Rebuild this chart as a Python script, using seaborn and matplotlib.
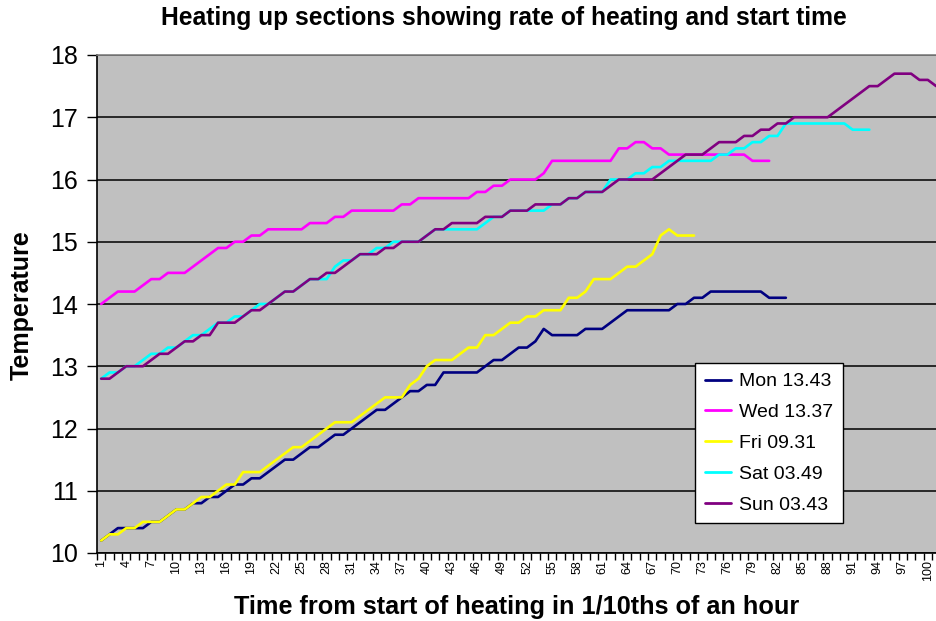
import numpy as np
import pandas as pd
import matplotlib
matplotlib.use("Agg")
import matplotlib.pyplot as plt
from matplotlib.ticker import FixedLocator
import seaborn as sns

# ---- data ----
series_names = ["Mon 13.43", "Wed 13.37", "Fri 09.31", "Sat 03.49", "Sun 03.43"]

mon = [10.2, 10.3, 10.4, 10.4, 10.4, 10.4, 10.5, 10.5, 10.6, 10.7,
       10.7, 10.8, 10.8, 10.9, 10.9, 11.0, 11.1, 11.1, 11.2, 11.2,
       11.3, 11.4, 11.5, 11.5, 11.6, 11.7, 11.7, 11.8, 11.9, 11.9,
       12.0, 12.1, 12.2, 12.3, 12.3, 12.4, 12.5, 12.6, 12.6, 12.7,
       12.7, 12.9, 12.9, 12.9, 12.9, 12.9, 13.0, 13.1, 13.1, 13.2,
       13.3, 13.3, 13.4, 13.6, 13.5, 13.5, 13.5, 13.5, 13.6, 13.6,
       13.6, 13.7, 13.8, 13.9, 13.9, 13.9, 13.9, 13.9, 13.9, 14.0,
       14.0, 14.1, 14.1, 14.2, 14.2, 14.2, 14.2, 14.2, 14.2, 14.2,
       14.1, 14.1, 14.1]

wed = [14.0, 14.1, 14.2, 14.2, 14.2, 14.3, 14.4, 14.4, 14.5, 14.5,
       14.5, 14.6, 14.7, 14.8, 14.9, 14.9, 15.0, 15.0, 15.1, 15.1,
       15.2, 15.2, 15.2, 15.2, 15.2, 15.3, 15.3, 15.3, 15.4, 15.4,
       15.5, 15.5, 15.5, 15.5, 15.5, 15.5, 15.6, 15.6, 15.7, 15.7,
       15.7, 15.7, 15.7, 15.7, 15.7, 15.8, 15.8, 15.9, 15.9, 16.0,
       16.0, 16.0, 16.0, 16.1, 16.3, 16.3, 16.3, 16.3, 16.3, 16.3,
       16.3, 16.3, 16.5, 16.5, 16.6, 16.6, 16.5, 16.5, 16.4, 16.4,
       16.4, 16.4, 16.4, 16.4, 16.4, 16.4, 16.4, 16.4, 16.3, 16.3,
       16.3]

fri = [10.2, 10.3, 10.3, 10.4, 10.4, 10.5, 10.5, 10.5, 10.6, 10.7,
       10.7, 10.8, 10.9, 10.9, 11.0, 11.1, 11.1, 11.3, 11.3, 11.3,
       11.4, 11.5, 11.6, 11.7, 11.7, 11.8, 11.9, 12.0, 12.1, 12.1,
       12.1, 12.2, 12.3, 12.4, 12.5, 12.5, 12.5, 12.7, 12.8, 13.0,
       13.1, 13.1, 13.1, 13.2, 13.3, 13.3, 13.5, 13.5, 13.6, 13.7,
       13.7, 13.8, 13.8, 13.9, 13.9, 13.9, 14.1, 14.1, 14.2, 14.4,
       14.4, 14.4, 14.5, 14.6, 14.6, 14.7, 14.8, 15.1, 15.2, 15.1,
       15.1, 15.1]

sat = [12.8, 12.9, 12.9, 13.0, 13.0, 13.1, 13.2, 13.2, 13.3, 13.3,
       13.4, 13.5, 13.5, 13.6, 13.7, 13.7, 13.8, 13.8, 13.9, 14.0,
       14.0, 14.1, 14.2, 14.2, 14.3, 14.4, 14.4, 14.4, 14.6, 14.7,
       14.7, 14.8, 14.8, 14.9, 14.9, 15.0, 15.0, 15.0, 15.0, 15.1,
       15.2, 15.2, 15.2, 15.2, 15.2, 15.2, 15.3, 15.4, 15.4, 15.5,
       15.5, 15.5, 15.5, 15.5, 15.6, 15.6, 15.7, 15.7, 15.8, 15.8,
       15.8, 16.0, 16.0, 16.0, 16.1, 16.1, 16.2, 16.2, 16.3, 16.3,
       16.3, 16.3, 16.3, 16.3, 16.4, 16.4, 16.5, 16.5, 16.6, 16.6,
       16.7, 16.7, 16.9, 16.9, 16.9, 16.9, 16.9, 16.9, 16.9, 16.9,
       16.8, 16.8, 16.8]

sun = [12.8, 12.8, 12.9, 13.0, 13.0, 13.0, 13.1, 13.2, 13.2, 13.3,
       13.4, 13.4, 13.5, 13.5, 13.7, 13.7, 13.7, 13.8, 13.9, 13.9,
       14.0, 14.1, 14.2, 14.2, 14.3, 14.4, 14.4, 14.5, 14.5, 14.6,
       14.7, 14.8, 14.8, 14.8, 14.9, 14.9, 15.0, 15.0, 15.0, 15.1,
       15.2, 15.2, 15.3, 15.3, 15.3, 15.3, 15.4, 15.4, 15.4, 15.5,
       15.5, 15.5, 15.6, 15.6, 15.6, 15.6, 15.7, 15.7, 15.8, 15.8,
       15.8, 15.9, 16.0, 16.0, 16.0, 16.0, 16.0, 16.1, 16.2, 16.3,
       16.4, 16.4, 16.4, 16.5, 16.6, 16.6, 16.6, 16.7, 16.7, 16.8,
       16.8, 16.9, 16.9, 17.0, 17.0, 17.0, 17.0, 17.0, 17.1, 17.2,
       17.3, 17.4, 17.5, 17.5, 17.6, 17.7, 17.7, 17.7, 17.6, 17.6,
       17.5]

colors = ["#000080", "#FF00FF", "#FFFF00", "#00FFFF", "#800080"]

x_tick_labels = [str(v) for v in range(1, 101, 3)]
y_ticks = [10, 11, 12, 13, 14, 15, 16, 17, 18]

title = "Heating up sections showing rate of heating and start time"
xlabel = "Time from start of heating in 1/10ths of an hour"
ylabel = "Temperature"

# ---- long-form table ----
frames = []
for name, vals in zip(series_names, [mon, wed, fri, sat, sun]):
    frames.append(pd.DataFrame({"t": np.arange(1, len(vals) + 1),
                                "temp": vals, "series": name}))
df = pd.concat(frames, ignore_index=True)

# ---- style ----
sns.set_style("white")
plt.rcParams["font.family"] = ["Liberation Sans", "DejaVu Sans"]
plt.rcParams["text.color"] = "black"
plt.rcParams["xtick.color"] = "black"
plt.rcParams["ytick.color"] = "black"
plt.rcParams["axes.labelcolor"] = "black"

fig = plt.figure(figsize=(9.37, 6.21), dpi=100)
ax = fig.add_axes([97 / 937, 1 - 553 / 621, 1 - 97 / 937, (553 - 55) / 621])
ax.set_facecolor("#C0C0C0")

sns.lineplot(data=df, x="t", y="temp", hue="series", hue_order=series_names,
             palette=colors, linewidth=1.9, ax=ax, legend=False,
             estimator=None, sort=False)

ax.set_xlim(0.5, 101.1)
ax.set_ylim(10, 18)

# y axis
ax.set_yticks(y_ticks)
ax.set_yticklabels([str(v) for v in y_ticks], fontsize=18, color="black")
ax.tick_params(axis="y", direction="out", length=7, width=1, color="black",
               pad=7, left=True)
ax.yaxis.grid(True, color="black", linewidth=1.1)
ax.xaxis.grid(False)
ax.set_axisbelow(True)

# x axis: labels every 3 categories, tick marks at category boundaries
label_pos = [int(s) for s in x_tick_labels]
ax.set_xticks(label_pos)
ax.set_xticklabels(x_tick_labels, rotation=90, fontsize=9, color="black")
ax.tick_params(axis="x", which="major", length=0, pad=5, bottom=True)
ax.xaxis.set_minor_locator(FixedLocator(np.arange(0.5, 101.5, 1.0)))
ax.tick_params(axis="x", which="minor", direction="out", length=5, width=1,
               color="black", bottom=True)

for s in ["left", "bottom"]:
    ax.spines[s].set_color("black")
    ax.spines[s].set_linewidth(1.2)
ax.spines["top"].set_color("#808080")
ax.spines["top"].set_linewidth(1.2)
ax.spines["right"].set_visible(False)

ax.set_xlabel("")
ax.set_ylabel("")
fig.text(517 / 937, 1 - 607 / 621, xlabel, ha="center", va="center",
         fontsize=18.2, fontweight="bold", color="black")
fig.text(22 / 937, 1 - 305 / 621, ylabel, ha="center", va="center",
         rotation=90, fontsize=18, fontweight="bold", color="black")
fig.text(504 / 937, 1 - 18 / 621, title, ha="center", va="center",
         fontsize=17.7, fontweight="bold", color="black")

# legend
handles = [plt.Line2D([], [], color=c, linewidth=2) for c in colors]
leg = ax.legend(handles, series_names, loc="upper left",
                bbox_to_anchor=((695 - 97) / 840, (553 - 363) / 498),
                borderaxespad=0, fontsize=14, frameon=True, fancybox=False,
                framealpha=1, edgecolor="black", facecolor="white",
                handlelength=1.35, handletextpad=0.4, labelspacing=0.68,
                borderpad=0.5)
for t in leg.get_texts():
    t.set_color("black")
leg.get_frame().set_linewidth(1.0)

fig.savefig("out.png", dpi=100)
